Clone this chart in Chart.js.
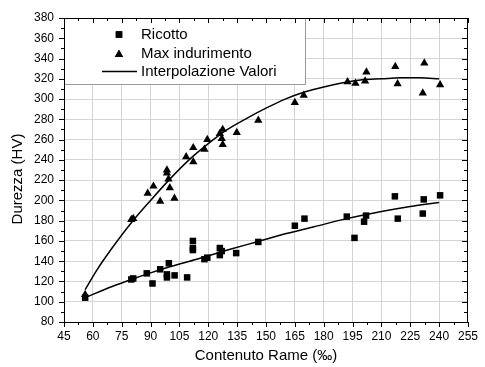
<!DOCTYPE html>
<html>
<head>
<meta charset="utf-8">
<script src="https://cdn.jsdelivr.net/npm/chart.js@4/dist/chart.umd.min.js"></script>
<style>
  html, body { margin: 0; padding: 0; background: #fff; }
  #wrap { width: 485px; height: 367px; }
</style>
</head>
<body>
<div id="wrap"><canvas id="graf"></canvas></div>
<script>
// assi ----------------------------------------------
const xMin = 45, xMax = 255, xStep = 15;
const yMin = 80, yMax = 380, yStep = 20;
const yTitle = 'Durezza (HV)';

// Ricotto (quadrati)
const ricottoX = [56, 80, 81, 88, 91, 95, 98.5, 98.5, 99.5, 102.5, 109, 112, 112, 112, 118, 119.5, 126, 126, 127, 134.5, 146, 165, 170, 192, 196, 201, 202, 217, 218.5, 231.5, 232, 240.5];
const ricottoY = [104, 122, 123, 128, 118, 132, 127, 124, 138, 126, 124, 160, 153, 151, 142, 143.5, 153, 146, 150, 148, 159, 175, 182, 184, 163, 179, 185, 204, 182, 187, 201, 205];

// Max indurimento (triangoli)
const maxX = [56, 80, 81, 88.5, 91.5, 95, 98.5, 98.5, 99.3, 100, 102.4, 108.5, 112.2, 112.2, 118, 119.5, 126, 127.5, 127, 127.5, 134.8, 146, 165, 169.6, 192.4, 196.5, 201.5, 202.2, 217.2, 218.4, 232.3, 231.5, 240.5];
const maxY = [107, 181, 182, 207, 214, 199, 230, 227, 221, 212.5, 202, 243, 252, 238, 250.5, 260, 266, 270, 261, 255, 267, 279, 296.5, 303.6, 317, 315.5, 317.8, 326.7, 332, 315, 335.5, 306, 314];

// curve di interpolazione
const fitRicX = [56, 70, 80, 90, 100, 114, 130, 145, 160, 175, 192, 210, 225, 240];
const fitRicY = [104, 115, 122, 128.5, 134.5, 142, 151, 159, 167, 174, 182, 189, 194, 198];
const fitMaxX = [56, 62, 70, 80, 90, 100, 110, 120, 130, 140, 150, 160, 170, 180, 190, 200, 210, 220, 230, 240];
const fitMaxY = [112, 131, 153, 178, 200, 221, 240, 256, 270, 281, 291, 300, 307, 312, 316, 319, 320, 321, 321, 320];

const legendLabels = ['Ricotto', 'Max indurimento', 'Interpolazione Valori'];

const pts = (xs, ys) => xs.map((x, i) => ({ x: x, y: ys[i] }));

const FONT = 'Liberation Sans, Arial, sans-serif';

// bordo, tacche, titolo Y e legenda disegnati a mano
const cornice = {
  id: 'cornice',
  afterDatasetsDraw(chart) {
    const ctx = chart.ctx;
    const a = chart.chartArea;
    const sx = chart.scales.x, sy = chart.scales.y;

    // legenda
    const lx = a.left, ly = a.top, lw = 305 - a.left, lh = 84 - a.top;
    ctx.save();
    ctx.fillStyle = '#fff';
    ctx.fillRect(lx, ly, lw, lh);
    ctx.strokeStyle = '#9a9a9a';
    ctx.lineWidth = 1;
    ctx.strokeRect(lx + 0.5, ly + 0.5, lw, lh);

    ctx.fillStyle = '#000';
    ctx.strokeStyle = '#000';
    ctx.font = '15px ' + FONT;
    ctx.textBaseline = 'middle';
    ctx.textAlign = 'left';
    const rows = [34.5, 53.5, 71.5];
    Chart.helpers.drawPoint(ctx, { pointStyle: 'rect', radius: 4.6, borderWidth: 0 }, 119, rows[0]);
    ctx.fill();
    Chart.helpers.drawPoint(ctx, { pointStyle: 'triangle', radius: 4.8, borderWidth: 0 }, 119, rows[1] + 1);
    ctx.fill();
    ctx.lineWidth = 1.5;
    ctx.beginPath();
    ctx.moveTo(102, rows[2]);
    ctx.lineTo(137, rows[2]);
    ctx.stroke();
    legendLabels.forEach((t, i) => ctx.fillText(t, 141, rows[i]));

    // titolo asse Y, un po' sotto il centro
    ctx.save();
    ctx.translate(18, 179);
    ctx.rotate(-Math.PI / 2);
    ctx.textAlign = 'center';
    ctx.fillText(yTitle, 0, 0);
    ctx.restore();

    // cornice del grafico
    ctx.lineWidth = 1;
    ctx.strokeRect(a.left + 0.5, a.top + 0.5, a.right - a.left - 1, a.bottom - a.top);

    // tacche: fuori a sinistra e sotto, dentro a destra e sopra
    ctx.beginPath();
    for (let v = yMin; v <= yMax; v += yStep / 2) {
      const y = Math.round(sy.getPixelForValue(v)) + 0.5;
      const len = (v - yMin) % yStep === 0 ? 5 : 3;
      ctx.moveTo(a.left - len, y); ctx.lineTo(a.left, y);
      ctx.moveTo(a.right - 1, y); ctx.lineTo(a.right - 1 - len, y);
    }
    for (let v = xMin; v <= xMax; v += xStep / 2) {
      const x = Math.round(sx.getPixelForValue(v)) + 0.5;
      const len = (v - xMin) % xStep === 0 ? 5 : 3;
      ctx.moveTo(x, a.bottom); ctx.lineTo(x, a.bottom + len);
      ctx.moveTo(x, a.top); ctx.lineTo(x, a.top + len);
    }
    ctx.stroke();
    ctx.restore();
  }
};

new Chart(document.getElementById('graf'), {
  type: 'scatter',
  data: {
    datasets: [
      {
        label: legendLabels[0],
        data: pts(ricottoX, ricottoY),
        pointStyle: 'rect',
        pointRadius: 4.6,
        pointBorderWidth: 0,
        backgroundColor: '#000',
        borderColor: '#000',
        order: 0
      },
      {
        label: legendLabels[1],
        data: pts(maxX, maxY),
        pointStyle: 'triangle',
        pointRadius: 4.8,
        pointBorderWidth: 0,
        backgroundColor: '#000',
        borderColor: '#000',
        order: 0
      },
      {
        label: legendLabels[2],
        data: pts(fitRicX, fitRicY),
        showLine: true,
        cubicInterpolationMode: 'monotone',
        pointRadius: 0,
        borderWidth: 1.5,
        borderColor: '#000',
        order: 1
      },
      {
        label: legendLabels[2],
        data: pts(fitMaxX, fitMaxY),
        showLine: true,
        cubicInterpolationMode: 'monotone',
        pointRadius: 0,
        borderWidth: 1.5,
        borderColor: '#000',
        order: 1
      }
    ]
  },
  options: {
    responsive: true,
    maintainAspectRatio: false,
    animation: false,
    layout: { padding: { top: 18, right: 9, left: 0, bottom: 0 } },
    plugins: { legend: { display: false }, tooltip: { enabled: false } },
    scales: {
      x: {
        type: 'linear',
        min: xMin,
        max: xMax,
        afterFit: s => { s.height = 45; },
        ticks: { stepSize: xStep, padding: 7, color: '#000', font: { family: FONT, size: 12 }, maxRotation: 0 },
        grid: { color: '#d4d4d4', drawTicks: false },
        border: { display: false },
        title: { display: true, text: 'Contenuto Rame (‰)', color: '#000', font: { family: FONT, size: 15 }, padding: { top: 0, bottom: 2 } }
      },
      y: {
        type: 'linear',
        min: yMin,
        max: yMax,
        afterFit: s => { s.width = 64; },
        ticks: { stepSize: yStep, padding: 10, color: '#000', font: { family: FONT, size: 12 } },
        grid: { color: '#d4d4d4', drawTicks: false },
        border: { display: false }
      }
    }
  },
  plugins: [cornice]
});
</script>
</body>
</html>
